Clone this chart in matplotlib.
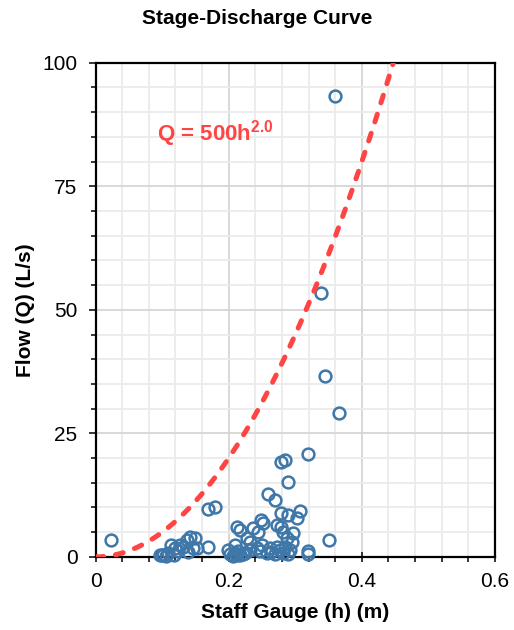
import numpy as np
import matplotlib
matplotlib.use("Agg")
import matplotlib.pyplot as plt
from matplotlib.ticker import MultipleLocator

plt.rcParams['font.family'] = ['Liberation Sans', 'DejaVu Sans']
plt.rcParams['mathtext.fontset'] = 'custom'
plt.rcParams['mathtext.rm'] = 'Liberation Sans:bold'
plt.rcParams['mathtext.it'] = 'Liberation Sans:bold'
plt.rcParams['mathtext.bf'] = 'Liberation Sans:bold'

# Observed staff gauge readings (m) and measured flows (L/s)
stage = [0.023, 0.360, 0.339, 0.345, 0.365, 0.319, 0.279, 0.284, 0.289, 0.259,
         0.269, 0.169, 0.179, 0.307, 0.279, 0.289, 0.302, 0.249, 0.252, 0.272,
         0.212, 0.217, 0.237, 0.244, 0.279, 0.282, 0.297, 0.287, 0.295, 0.227,
         0.232, 0.209, 0.350, 0.319, 0.319, 0.142, 0.137, 0.149, 0.114, 0.119,
         0.124, 0.132, 0.127, 0.147, 0.152, 0.169, 0.102, 0.109, 0.097, 0.106,
         0.202, 0.209, 0.214, 0.217, 0.206, 0.242, 0.247, 0.257, 0.262, 0.272,
         0.277, 0.282, 0.284, 0.250, 0.232, 0.224, 0.292, 0.269, 0.199, 0.118,
         0.139, 0.100, 0.212, 0.222, 0.264, 0.289]
flow = [3.4, 93.3, 53.5, 36.6, 29.2, 20.8, 19.2, 19.6, 15.2, 12.8,
        11.5, 9.7, 10.0, 9.3, 8.8, 8.5, 7.8, 7.5, 6.8, 6.5,
        6.1, 5.5, 5.8, 5.1, 6.1, 5.1, 4.8, 3.8, 3.1, 3.8,
        3.1, 2.4, 3.4, 0.5, 1.2, 4.1, 3.4, 3.8, 2.4, 1.8,
        1.1, 2.1, 2.4, 1.8, 1.8, 2.1, 0.4, 0.8, 0.4, 0.2,
        0.5, 0.8, 1.1, 0.4, 0.2, 1.8, 1.1, 0.7, 1.8, 2.1,
        1.4, 0.7, 2.1, 2.4, 1.4, 0.8, 1.4, 0.6, 1.4, 0.4,
        1.0, 0.3, 0.3, 0.6, 0.9, 0.5]

# Rating curve Q = C * h^n
coef = 500
exponent = 2.0
h_curve = np.linspace(0, (100 / coef) ** (1 / exponent), 200)
q_curve = coef * h_curve ** exponent

fig = plt.figure(figsize=(5.14, 6.30), dpi=100)
ax = fig.add_axes([0.186, 0.116, 0.777, 0.7845])

ax.set_xlim(0, 0.6)
ax.set_ylim(0, 100)
ax.xaxis.set_minor_locator(MultipleLocator(0.04))
ax.yaxis.set_major_locator(MultipleLocator(25))
ax.yaxis.set_minor_locator(MultipleLocator(5))
ax.set_xticks([0, 0.2, 0.4, 0.6])
ax.set_xticklabels(['0', '0.2', '0.4', '0.6'])

ax.grid(which='minor', color='#ebebeb', lw=1.3, zorder=0)
ax.grid(which='major', color='#d6d6d6', lw=1.3, zorder=0)
ax.set_axisbelow(True)

for s in ax.spines.values():
    s.set_linewidth(1.6)
    s.set_color('black')

ax.tick_params(axis='x', which='major', direction='inout', length=7.5, width=1.1,
               labelsize=15, pad=7)
ax.tick_params(axis='x', which='minor', direction='out', length=3.5, width=1.1)
ax.tick_params(axis='y', which='major', direction='out', length=5, width=1.1,
               labelsize=15, pad=8)
ax.tick_params(axis='y', which='minor', direction='out', length=3.5, width=1.1)

ax.plot(stage, flow, 'o', ms=8.5, mfc='none', mec='#3e77a8', mew=1.8,
        zorder=3, clip_on=False)

ax.plot(h_curve, q_curve, color='#ff4444', lw=3.6, ls=(0, (1.6, 2.4)),
        dash_capstyle='round', zorder=4)

ax.text(0.092, 84.2, r'Q = 500h$^{2.0}$', color='#ff4444', fontsize=16,
        fontweight='bold', ha='left', va='baseline', zorder=5)

fig.text(0.5, 1 - 19 / 630, 'Stage-Discharge Curve', fontsize=15,
         fontweight='bold', ha='center', va='center')
ax.set_xlabel('Staff Gauge (h) (m)', fontsize=15, fontweight='bold', labelpad=9)
ax.set_ylabel('Flow (Q) (L/s)', fontsize=15, fontweight='bold', labelpad=5)

fig.savefig('out.png', dpi=100)
